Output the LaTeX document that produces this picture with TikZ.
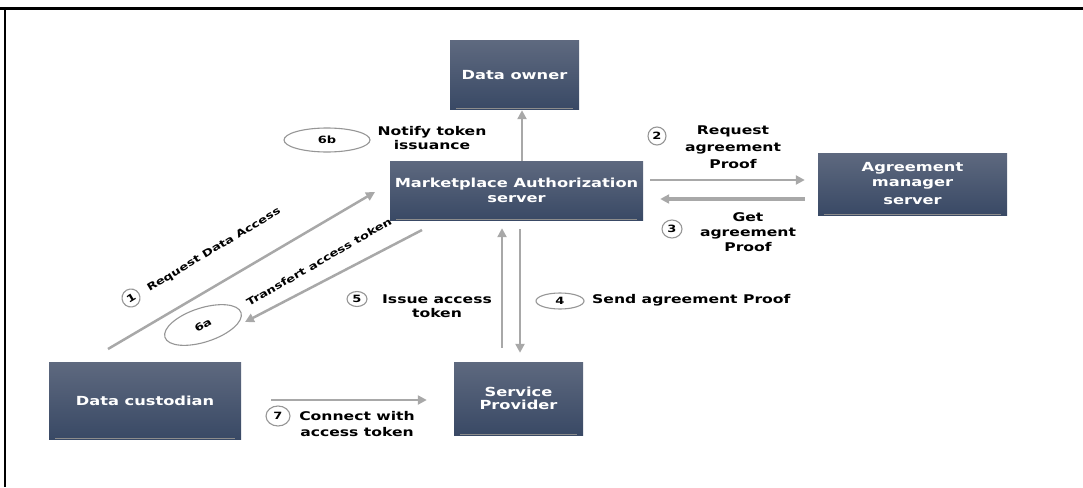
\documentclass[tikz,border=0pt]{standalone}
\usepackage{fontspec}
\newfontfamily\dvs[FakeStretch=1.3]{DejaVu Sans}
\usetikzlibrary{arrows.meta,shapes.geometric}
\definecolor{boxtop}{RGB}{94,105,127}
\definecolor{boxbot}{RGB}{57,73,101}
\definecolor{arrgray}{RGB}{168,168,168}
\definecolor{ellgray}{RGB}{150,150,150}
\definecolor{shgray}{RGB}{140,140,140}
\begin{document}
\begin{tikzpicture}[x=1pt,y=-1pt,
  box/.style={draw=none, top color=boxtop, bottom color=boxbot, text=white,
    font=\dvs\bfseries\fontsize{12.5}{15}\selectfont, align=center, inner sep=0pt},
  lab/.style={font=\dvs\bfseries\fontsize{12}{15}\selectfont, align=center, inner sep=0pt, text=black},
  rlab/.style={font=\dvs\bfseries\fontsize{10}{12}\selectfont, inner sep=0pt, text=black},
  num/.style={ellipse, draw=ellgray, line width=1.1pt, fill=white,
    font=\dvs\bfseries\fontsize{10}{12}\selectfont, inner sep=0pt},
  arr/.style={draw=arrgray, line width=2.5pt, -{Triangle[length=9pt,width=9pt]}},
  shline/.style={draw=shgray, line width=1.5pt}
]
\useasboundingbox (0,0) rectangle (1083,487);
% frame
\draw[line width=3pt] (0,8.5) -- (1083,8.5);
\draw[line width=1.8pt] (5,8.5) -- (5,487);

% boxes
\node[box, minimum width=129pt, minimum height=68pt] (do) at (514.5,75) {Data owner};
\node[box, minimum width=253pt, minimum height=59pt] (mas) at (516.5,190.5) {Marketplace Authorization\\server};
\node[box, minimum width=189pt, minimum height=62pt] (am) at (912.5,184) {Agreement\\manager\\[3pt]server};
\node[box, minimum width=192pt, minimum height=77pt] (dc) at (145,400.5) {Data custodian};
\node[box, minimum width=129pt, minimum height=73pt, font=\dvs\bfseries\fontsize{12.5}{13.5}\selectfont] (sp) at (518.5,398.5) {Service\\Provider};
\foreach \b in {do,mas,am,dc,sp}{
  \draw[shline] ([xshift=6pt,yshift=0.8pt]\b.south west) -- ([xshift=-6pt,yshift=0.8pt]\b.south east);
}

% arrows
\draw[arr, shorten >=1pt] ([xshift=7.5pt]do.south |- mas.north) -- ([xshift=7.5pt]do.south);
\draw[arr, shorten <=7pt, shorten >=13pt] (mas.east |- 0,180) -- (am.west |- 0,180);
\draw[arr, line width=3.5pt, shorten <=13pt, shorten >=17pt] (am.west |- 0,199) -- (mas.east |- 0,199);
\draw[arr, shorten <=14pt, shorten >=8pt] ([xshift=-16.5pt]sp.north) -- ([xshift=-16.5pt]sp.north |- mas.south);
\draw[arr, shorten <=9pt, shorten >=9pt] ([xshift=3.5pt]mas.south) -- ([xshift=3.5pt]mas.south |- sp.north);
\draw[arr, shorten <=30pt, shorten >=27pt] (dc.east |- 0,400) -- (sp.west |- 0,400);
\coordinate (c1s) at (108,349);
\coordinate (c1e) at (375,192);
\draw[arr] (c1s) -- (c1e);
\coordinate (c6s) at (422,230);
\coordinate (c6e) at (245,322);
\draw[arr] (c6s) -- (c6e);

% ellipses and circles
\node[num, minimum width=86pt, minimum height=24pt] (e6b) at (327,140) {6b};
\node[num, minimum width=80pt, minimum height=34pt, rotate=18] (e6a) at (203,325) {\rotatebox{12}{6a}};
\node[num, minimum width=18pt, minimum height=18pt, rotate=31] (n1) at (131,298) {1};
\node[num, minimum width=18pt, minimum height=18pt] (n2) at (657,136) {2};
\node[num, minimum width=20pt, minimum height=18pt] (n3) at (672,229) {3};
\node[num, minimum width=48pt, minimum height=16pt] (n4) at (560,301) {4};
\node[num, minimum width=20pt, minimum height=15pt] (n5) at (357,299) {5};
\node[num, minimum width=24pt, minimum height=20pt] (n7) at (278,416) {7};

% labels
\node[lab, font=\dvs\bfseries\fontsize{12}{14}\selectfont] (l6b) at (432,138) {Notify token\\issuance};
\node[lab, font=\dvs\bfseries\fontsize{12}{17}\selectfont] (l2) at (733,147) {Request\\agreement\\Proof};
\node[lab] (l3) at (748,232) {Get\\agreement\\Proof};
\node[lab, font=\dvs\bfseries\fontsize{12}{14}\selectfont] (l5) at (437,306) {Issue access\\token};
\node[lab, anchor=west] (l4) at (592,300) {Send agreement Proof};
\node[lab, font=\dvs\bfseries\fontsize{12}{16}\selectfont] (l7) at (357,424) {Connect with\\access token};
\node[rlab, rotate=31] (l1) at (214,250) {Request Data Access};
\node[rlab, rotate=30] (l6a) at (319,262) {Transfert access token};
\end{tikzpicture}
\end{document}
